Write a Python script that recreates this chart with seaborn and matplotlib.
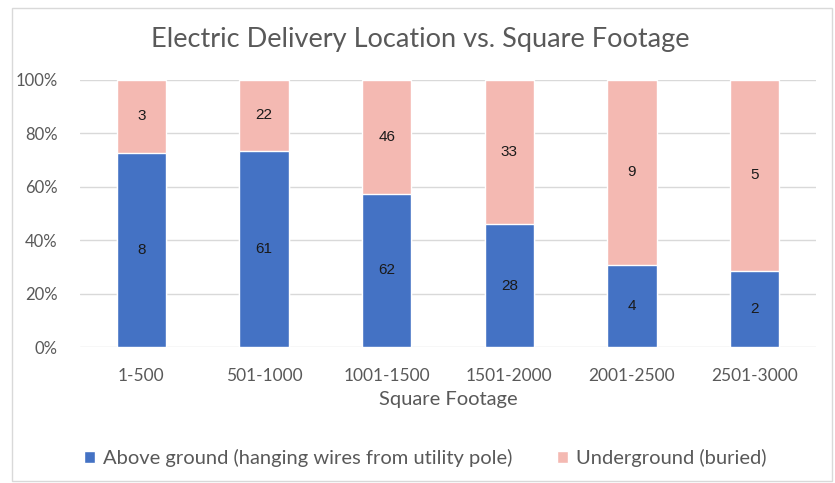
import matplotlib
matplotlib.use("Agg")
import matplotlib.pyplot as plt
import seaborn as sns
import pandas as pd
from matplotlib.patches import Patch, Rectangle

categories = ["1-500", "501-1000", "1001-1500", "1501-2000", "2001-2500", "2501-3000"]
above = [8, 61, 62, 28, 4, 2]
under = [3, 22, 46, 33, 9, 5]
yticks = [0, 20, 40, 60, 80, 100]
ytick_labels = ["0%", "20%", "40%", "60%", "80%", "100%"]

series_names = ["Above ground (hanging wires from utility pole)", "Underground (buried)"]
blue = "#4472C4"
pink = "#F4B9B2"

totals = [a + u for a, u in zip(above, under)]
pct_above = [a / t * 100 for a, t in zip(above, totals)]
df = pd.DataFrame({"cat": categories, "above": pct_above, "total": [100.0] * len(categories)})

sns.set_style("white")
plt.rcParams["font.family"] = ["Lato", "DejaVu Sans"]

fig = plt.figure(figsize=(8.35, 4.83), dpi=100)
ax = fig.add_axes([80 / 835, 1 - 347 / 483, 736 / 835, 267 / 483])

sns.barplot(data=df, x="cat", y="total", color=pink, saturation=1, width=0.4, ax=ax, zorder=2)
sns.barplot(data=df, x="cat", y="above", color=blue, saturation=1, width=0.4, ax=ax, zorder=3)

for i in range(len(categories)):
    pa = pct_above[i]
    ax.text(i, pa / 2, str(above[i]), ha="center", va="center", fontsize=11,
            color="#1a1a1a", family=["Liberation Sans", "DejaVu Sans"], zorder=4)
    ax.text(i, pa + (100 - pa) / 2, str(under[i]), ha="center", va="center", fontsize=11,
            color="#1a1a1a", family=["Liberation Sans", "DejaVu Sans"], zorder=4)

ax.set_ylim(0, 100)
ax.set_xlim(-0.5, len(categories) - 0.5)
ax.set_yticks(yticks)
ax.set_yticklabels(ytick_labels)
ax.yaxis.grid(True, color="#D9D9D9", linewidth=1, zorder=0)
ax.set_axisbelow(True)
for s in ax.spines.values():
    s.set_visible(False)
ax.tick_params(axis="both", length=0, colors="#595959")
ax.tick_params(axis="y", pad=16, labelsize=12)
ax.tick_params(axis="x", pad=15, labelsize=12.5)
ax.set_ylabel("")
ax.set_xlabel("Square Footage", fontsize=14.5, color="#595959", labelpad=5)

fig.text(420 / 835, 1 - 40 / 483, "Electric Delivery Location vs. Square Footage",
         ha="center", va="center", fontsize=19.5, color="#595959")

handles = [Patch(facecolor=blue, label=series_names[0]), Patch(facecolor=pink, label=series_names[1])]
fig.legend(handles=handles, loc="center", bbox_to_anchor=(425 / 835, 1 - 458 / 483), ncol=2,
           frameon=False, fontsize=14.5, labelcolor="#595959", handlelength=0.55, handleheight=0.55,
           handletextpad=0.4, columnspacing=2.2)

fig.patches.append(Rectangle((12 / 835, 0.005), 820 / 835, 1 - 0.005 - 8 / 483, transform=fig.transFigure,
                             fill=False, edgecolor="#D9D9D9", linewidth=1))

fig.savefig("out.png", dpi=100, facecolor="white")
